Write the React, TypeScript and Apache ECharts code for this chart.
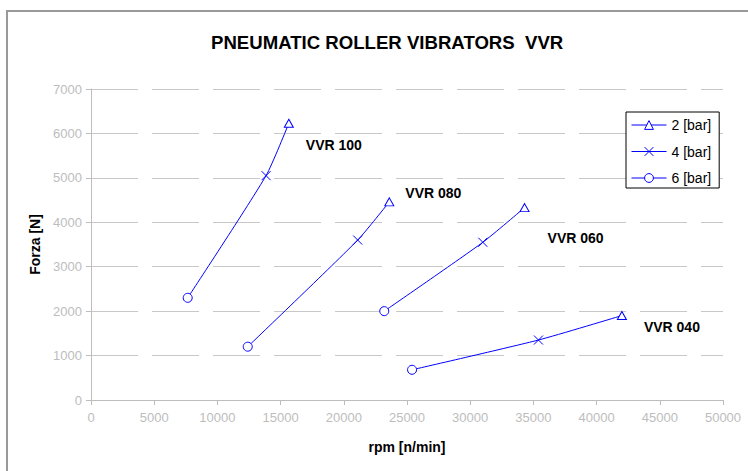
import React, { useEffect, useRef } from 'react';
import * as echarts from 'echarts';

const titleText = 'PNEUMATIC ROLLER VIBRATORS  VVR';
const xName = 'rpm [n/min]';
const yName = 'Forza [N]';
const models = ['VVR 100', 'VVR 080', 'VVR 060', 'VVR 040'];
const pressures = ['2 [bar]', '4 [bar]', '6 [bar]'];
const rpm2 = [15650, 23600, 34300, 42000];
const force2 = [6230, 4460, 4330, 1900];
const rpm4 = [13850, 21100, 31000, 35400];
const force4 = [5050, 3600, 3550, 1350];
const rpm6 = [7650, 12400, 23200, 25400];
const force6 = [2300, 1200, 2000, 680];
const xMax = 50000;
const xStep = 5000;
const yMax = 7000;
const yStep = 1000;

const labelOffsets: number[][] = [[7, 22], [6, -9], [13, 30], [12, 11]];

const BLUE = '#0000ff';
const FONT = '"Liberation Sans", Arial, sans-serif';
const crossPath = 'path://M0,0L10,10M10,0L0,10';

export default function App() {
  const ref = useRef<HTMLDivElement>(null);
  useEffect(() => {
    document.body.style.margin = '0';
    const chart = echarts.init(ref.current!, null, { renderer: 'svg' });
    const symbolStyle = { color: '#fff', borderColor: BLUE, borderWidth: 1 };
    const modelSeries = models.map((m, i) => ({
      type: 'line',
      name: m,
      data: [
        [rpm6[i], force6[i]],
        [rpm4[i], force4[i]],
        [rpm2[i], force2[i]],
      ],
      symbol: 'none',
      showSymbol: false,
      smooth: 0.2,
      silent: true,
      lineStyle: { color: BLUE, width: 1 },
      z: 2,
    }));
    const pressureSets = [
      { rpm: rpm2, force: force2, symbol: 'triangle' },
      { rpm: rpm4, force: force4, symbol: crossPath },
      { rpm: rpm6, force: force6, symbol: 'circle' },
    ];
    const pressureSeries = pressureSets.map((p, k) => ({
      type: 'line',
      name: pressures[k],
      symbol: p.symbol,
      symbolSize: k === 0 ? [9, 8] : 9,
      showSymbol: true,
      lineStyle: { width: 0, color: BLUE },
      itemStyle: symbolStyle,
      z: 3,
      data: p.rpm.map((x, i) => {
        const item: any = { value: [x, p.force[i]] };
        if (k === 0) {
          item.label = {
            show: true,
            formatter: models[i],
            position: 'right',
            offset: labelOffsets[i],
            color: '#000',
            fontWeight: 'bold',
            fontSize: 14,
            fontFamily: FONT,
          };
        }
        return item;
      }),
    }));
    const plain = (v: number) => String(v);
    chart.setOption({
      animation: false,
      textStyle: { fontFamily: FONT },
      title: {
        text: titleText,
        left: 211,
        top: 33,
        padding: 0,
        textStyle: { fontSize: 18.6, fontWeight: 'bold', color: '#000', fontFamily: FONT },
      },
      graphic: [
        {
          type: 'rect',
          shape: { x: 7, y: 11, width: 800, height: 520 },
          style: { fill: 'none', stroke: '#999', lineWidth: 2 },
          z: 0,
        },
      ],
      legend: {
        data: pressures,
        orient: 'vertical',
        left: 626,
        top: 112,
        padding: [6, 8, 3, 5],
        itemGap: 12.5,
        itemWidth: 35,
        itemHeight: 11,
        backgroundColor: '#fff',
        borderColor: '#000',
        borderWidth: 1,
        borderRadius: 0,
        textStyle: { fontSize: 14, color: '#000', fontFamily: FONT },
        itemStyle: { color: '#fff', borderColor: BLUE, borderWidth: 1 },
        lineStyle: { color: BLUE, width: 1, opacity: 1 },
        selectedMode: false,
      },
      grid: { left: 91, right: 25, top: 89, bottom: 71, containLabel: false },
      xAxis: {
        type: 'value',
        min: 0,
        max: xMax,
        interval: xStep,
        name: xName,
        nameLocation: 'middle',
        nameGap: 40,
        nameTextStyle: { fontSize: 14, fontWeight: 'bold', color: '#000', fontFamily: FONT },
        axisLine: { show: true, lineStyle: { color: '#bdbdbd', width: 1 } },
        axisTick: { show: true, length: 5, lineStyle: { color: '#bdbdbd' } },
        axisLabel: { color: '#bdbdbd', fontSize: 13, margin: 11, fontFamily: FONT, formatter: plain },
        splitLine: { show: false },
      },
      yAxis: {
        type: 'value',
        min: 0,
        max: yMax,
        interval: yStep,
        name: yName,
        nameLocation: 'middle',
        nameRotate: 90,
        nameGap: 48,
        nameTextStyle: { fontSize: 14, fontWeight: 'bold', color: '#000', fontFamily: FONT },
        axisLine: { show: true, lineStyle: { color: '#bdbdbd', width: 1 } },
        axisTick: { show: true, length: 5, lineStyle: { color: '#bdbdbd' } },
        axisLabel: { color: '#bdbdbd', fontSize: 13, margin: 9, fontFamily: FONT, formatter: plain },
        splitLine: {
          show: true,
          lineStyle: { color: '#c8c8c8', width: 1, type: [47, 14], dashOffset: 0 },
        },
      },
      series: [...modelSeries, ...pressureSeries],
    });
    return () => chart.dispose();
  }, []);
  return <div ref={ref} style={{ width: 748, height: 471 }} />;
}
